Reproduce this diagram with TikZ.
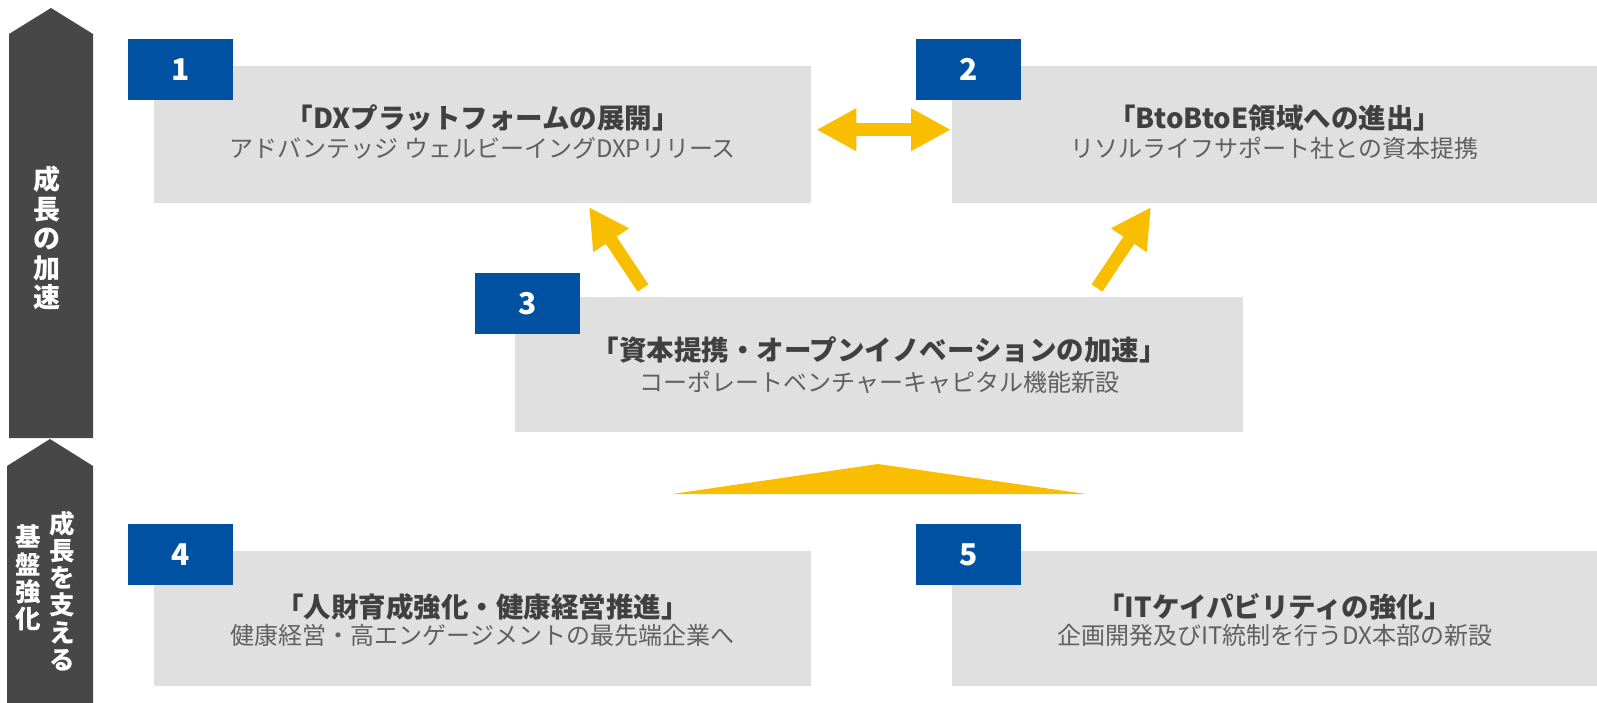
\documentclass[tikz,border=0pt]{standalone}
\usepackage{fontspec}
\setmainfont{Noto Sans CJK JP}
\usetikzlibrary{arrows.meta, positioning, calc}
\definecolor{panelGray}{RGB}{224,224,224}
\definecolor{tagBlue}{RGB}{0,81,161}
\definecolor{accYellow}{RGB}{250,190,0}
\definecolor{stageDark}{RGB}{71,71,71}
\definecolor{txtDark}{RGB}{64,64,64}
\definecolor{txtMid}{RGB}{96,96,96}
\tikzset{
    % Shapes
    panel/.style={rectangle, fill=panelGray, inner sep=0pt, anchor=north west},
    tagbox/.style={rectangle, fill=tagBlue, text=white, inner sep=0pt, anchor=north west,
                   minimum width=105pt, minimum height=61pt,
                   font=\bfseries\fontsize{30}{30}\selectfont},
    % Texts
    ttl/.style={text=txtDark, inner sep=0pt, font=\bfseries\fontsize{27.5}{30}\selectfont},
    subttl/.style={text=txtMid, inner sep=0pt, font=\fontsize{24}{26}\selectfont},
    stage/.style={text=white, inner sep=0pt, align=center,
                  font=\bfseries\fontsize{27}{29.5}\selectfont},
    stagesm/.style={stage, font=\bfseries\fontsize{25.5}{27.3}\selectfont},
    % Flow
    flowY/.style={draw=accYellow, line width=13pt},
    tipY/.tip={Triangle[length=40pt, width=40pt]}
}
\begin{document}
\begin{tikzpicture}[x=1pt, y=-1pt]
\useasboundingbox (0,0) rectangle (1597,703);

% stage arrows
\fill[stageDark] (9,438) -- (9,34) -- (51,8) -- (93,34) -- (93,438) -- cycle;
\fill[stageDark] (7,703) -- (7,466) -- (50,439) -- (93,466) -- (93,703) -- cycle;
\node[stage] (accel) at (47,238) {成\\長\\の\\加\\速};
\node[stagesm] (baseR) at (62.5,591) {成\\長\\を\\支\\え\\る};
\node[stagesm] (baseL) at (28,578) {基\\盤\\強\\化};

% panels
\node[panel, minimum width=657pt, minimum height=137pt] (box1) at (154,66) {};
\node[panel, minimum width=645pt, minimum height=137pt] (box2) at (952,66) {};
\node[panel, minimum width=728pt, minimum height=135pt] (box3) at (515,297) {};
\node[panel, minimum width=657pt, minimum height=135pt] (box4) at (154,551) {};
\node[panel, minimum width=645pt, minimum height=135pt] (box5) at (952,551) {};

\node[tagbox] (tag1) at (128,39) {1};
\node[tagbox] (tag2) at (916,39) {2};
\node[tagbox] (tag3) at (475,273) {3};
\node[tagbox] (tag4) at (128,524) {4};
\node[tagbox] (tag5) at (916,524) {5};

\node[ttl] (ttl1) at ($(box1.north)+(0,52)$) {「DXプラットフォームの展開」};
\node[subttl] (sub1) at ($(box1.north)+(0,82)$) {アドバンテッジ ウェルビーイングDXPリリース};
\node[ttl] (ttl2) at ($(box2.north)+(0,52)$) {「BtoBtoE領域への進出」};
\node[subttl] (sub2) at ($(box2.north)+(0,82)$) {リソルライフサポート社との資本提携};
\node[ttl] (ttl3) at ($(box3.north)+(0,53)$) {「資本提携・オープンイノベーションの加速」};
\node[subttl] (sub3) at ($(box3.north)+(0,85)$) {コーポレートベンチャーキャピタル機能新設};
\node[ttl] (ttl4) at ($(box4.north)+(0,56)$) {「人財育成強化・健康経営推進」};
\node[subttl] (sub4) at ($(box4.north)+(0,84)$) {健康経営・高エンゲージメントの最先端企業へ};
\node[ttl] (ttl5) at ($(box5.north)+(0,56)$) {「ITケイパビリティの強化」};
\node[subttl] (sub5) at ($(box5.north)+(0,84)$) {企画開発及びIT統制を行うDX本部の新設};

% yellow connectors
\coordinate (from3L) at (643,288);
\coordinate (to1) at (589,207);
\coordinate (from3R) at (1097,288);
\coordinate (to2) at (1151,207);
\draw[flowY, tipY-tipY] ([xshift=5pt, yshift=5pt]box1.east) -- ([xshift=-1pt, yshift=5pt]box2.west);
\draw[flowY, -tipY] (from3L) -- (to1);
\draw[flowY, -tipY] (from3R) -- (to2);
\fill[accYellow] (672,494) -- (878,464) -- (1086,494) -- cycle;

\end{tikzpicture}
\end{document}
